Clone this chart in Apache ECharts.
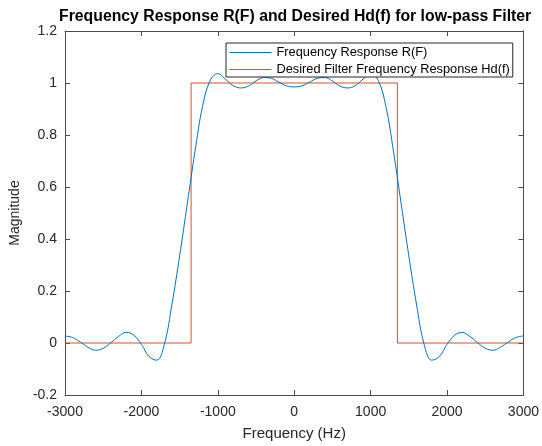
<!DOCTYPE html>
<html>
<head>
<meta charset="utf-8">
<script src="https://cdn.jsdelivr.net/npm/echarts@6/dist/echarts.min.js"></script>
<style>html,body{margin:0;padding:0;background:#fff;}#c{width:542px;height:446px;}</style>
</head>
<body>
<div id="c"></div>
<script>
// Frequency axis samples (Hz) for R(F)
var rFreq = [-3000,-2900,-2800,-2700,-2600,-2500,-2400,-2300,-2200,-2100,-2000,-1900,-1800,-1700,-1600,-1500,-1400,-1300,-1200,-1100,-1000,-900,-800,-700,-600,-500,-400,-300,-200,-100,0,100,200,300,400,500,600,700,800,900,1000,1100,1200,1300,1400,1500,1600,1700,1800,1900,2000,2100,2200,2300,2400,2500,2600,2700,2800,2900,3000];
// Frequency Response R(F) magnitudes
var rValues = [0.027,0.021,0.004,-0.016,-0.028,-0.020,0.001,0.025,0.041,0.030,-0.005,-0.052,-0.066,-0.005,0.150,0.335,0.535,0.735,0.910,1.010,1.036,1.015,0.990,0.981,0.988,1.008,1.021,1.018,1.003,0.989,0.985,0.989,1.003,1.018,1.021,1.008,0.988,0.981,0.990,1.015,1.036,1.010,0.910,0.735,0.535,0.335,0.150,-0.005,-0.066,-0.052,-0.005,0.030,0.041,0.025,0.001,-0.020,-0.028,-0.016,0.004,0.021,0.027];
// Desired ideal low-pass Hd(f)
var hdFreq = [-3000,-1350,-1350,1350,1350,3000];
var hdValues = [0,0,1,1,0,0];
var xTicks = [-3000,-2000,-1000,0,1000,2000,3000];
var yTicks = [-0.2,0,0.2,0.4,0.6,0.8,1,1.2];
var seriesNames = ['Frequency Response R(F)','Desired Filter Frequency Response Hd(f)'];

function pairs(xs, ys){ return xs.map(function(x,i){ return [x, ys[i]]; }); }

var FONT = 'Liberation Sans, Arial, Helvetica, sans-serif';
var axisCol = '#4a4a4a';
var txtCol = '#262626';

var chart = echarts.init(document.getElementById('c'), null, {renderer:'canvas'});
var xBase = {
  type:'value', min:xTicks[0], max:xTicks[xTicks.length-1], interval:1000,
  splitLine:{show:false},
  axisLine:{show:true, onZero:false, lineStyle:{color:axisCol, width:1}},
  axisTick:{show:true, inside:true, length:5, lineStyle:{color:axisCol}}
};
var yBase = {
  type:'value', min:yTicks[0], max:yTicks[yTicks.length-1], interval:0.2,
  splitLine:{show:false},
  axisLine:{show:true, onZero:false, lineStyle:{color:axisCol, width:1}},
  axisTick:{show:true, inside:true, length:5, lineStyle:{color:axisCol}}
};
chart.setOption({
  animation:false,
  backgroundColor:'#fff',
  title:{
    text:'Frequency Response R(F) and Desired Hd(f) for low-pass Filter',
    left:59, top:9, padding:0,
    textStyle:{fontFamily:FONT, fontSize:15.8, fontWeight:'bold', color:'#000'}
  },
  grid:{left:61, right:16, top:31, bottom:47.5, containLabel:false},
  legend:{
    orient:'vertical', left:226, top:43,
    padding:[3,3,1,3], itemGap:4, itemWidth:42, itemHeight:14,
    backgroundColor:'#fff', borderColor:'#262626', borderWidth:1,
    itemStyle:{opacity:0, borderWidth:0},
    lineStyle:{width:1},
    textStyle:{fontFamily:FONT, fontSize:12.8, color:'#000'},
    data:seriesNames
  },
  xAxis:[
    Object.assign({}, xBase, {
      position:'bottom',
      name:'Frequency (Hz)', nameLocation:'middle', nameGap:31,
      nameTextStyle:{fontFamily:FONT, fontSize:15, color:txtCol},
      axisLabel:{show:true, margin:10, fontFamily:FONT, fontSize:14, color:txtCol,
        formatter:function(v){ return String(v); }}
    }),
    Object.assign({}, xBase, {position:'top', axisLabel:{show:false}})
  ],
  yAxis:[
    Object.assign({}, yBase, {
      position:'left',
      name:'Magnitude', nameLocation:'middle', nameGap:27, nameRotate:90,
      nameTextStyle:{fontFamily:FONT, fontSize:14, color:txtCol},
      axisLabel:{show:true, margin:8, fontFamily:FONT, fontSize:14, color:txtCol,
        formatter:function(v){ return String(Math.round(v*10)/10); }}
    }),
    Object.assign({}, yBase, {position:'right', axisLabel:{show:false}})
  ],
  series:[
    {
      name:seriesNames[0], type:'line', xAxisIndex:0, yAxisIndex:0,
      data:pairs(rFreq, rValues), smooth:0.4, symbol:'none', showSymbol:false,
      lineStyle:{color:'#0072BD', width:1}, itemStyle:{color:'#0072BD'}, z:3
    },
    {
      name:seriesNames[1], type:'line', xAxisIndex:0, yAxisIndex:0,
      data:pairs(hdFreq, hdValues), symbol:'none', showSymbol:false,
      lineStyle:{color:'#D95319', width:1}, itemStyle:{color:'#D95319'}, z:2
    }
  ]
});
</script>
</body>
</html>
